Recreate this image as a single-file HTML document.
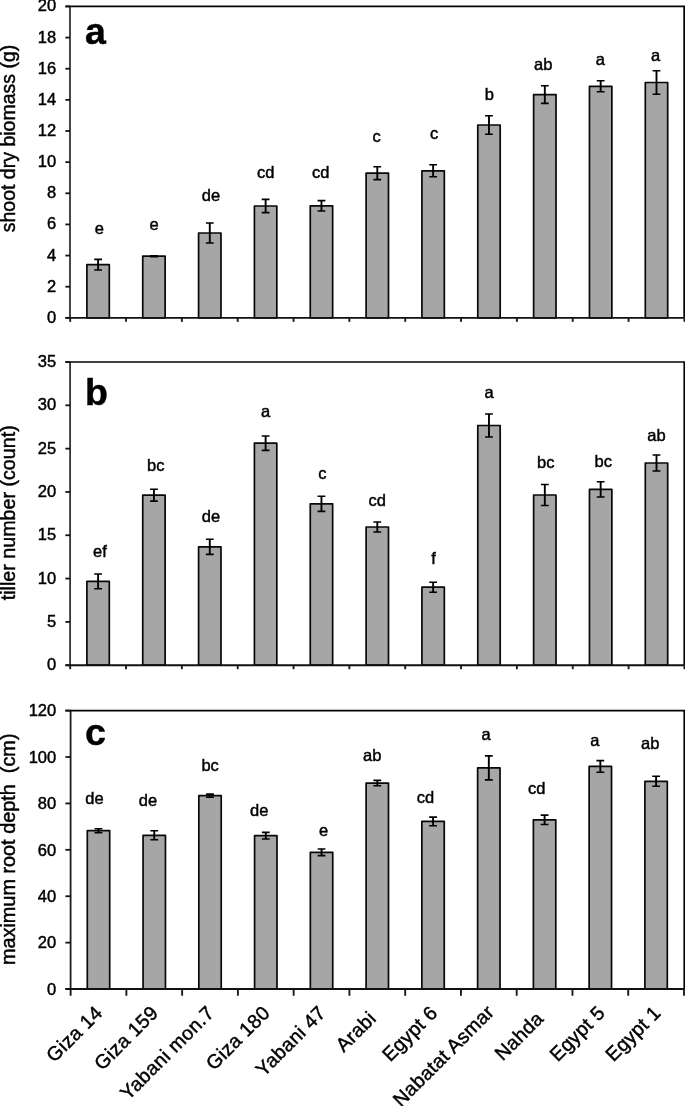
<!DOCTYPE html>
<html><head><meta charset="utf-8"><title>chart</title>
<style>html,body{margin:0;padding:0;background:#fff}svg{display:block}text{font-family:"Liberation Sans",sans-serif;fill:#000;stroke:#000;stroke-width:0.45px}</style></head><body>
<svg width="685" height="1106" viewBox="0 0 685 1106">
<rect width="685" height="1106" fill="#fff"/>
<rect x="86.90" y="264.70" width="22.40" height="53.15" fill="#a6a6a6" stroke="#080808" stroke-width="1.7" stroke-linejoin="round"/>
<path d="M98.10 259.40V270.00" stroke="#000" stroke-width="1.9" fill="none"/>
<path d="M94.20 259.40h7.8M94.20 270.00h7.8" stroke="#000" stroke-width="1.6" fill="none"/>
<rect x="142.74" y="256.20" width="22.40" height="61.65" fill="#a6a6a6" stroke="#080808" stroke-width="1.7" stroke-linejoin="round"/>
<path d="M153.94 255.70V256.70" stroke="#000" stroke-width="1.9" fill="none"/>
<path d="M150.04 255.70h7.8M150.04 256.70h7.8" stroke="#000" stroke-width="1.6" fill="none"/>
<rect x="198.58" y="233.00" width="22.40" height="84.85" fill="#a6a6a6" stroke="#080808" stroke-width="1.7" stroke-linejoin="round"/>
<path d="M209.78 223.00V243.00" stroke="#000" stroke-width="1.9" fill="none"/>
<path d="M205.88 223.00h7.8M205.88 243.00h7.8" stroke="#000" stroke-width="1.6" fill="none"/>
<rect x="254.42" y="206.00" width="22.40" height="111.85" fill="#a6a6a6" stroke="#080808" stroke-width="1.7" stroke-linejoin="round"/>
<path d="M265.62 199.40V212.60" stroke="#000" stroke-width="1.9" fill="none"/>
<path d="M261.72 199.40h7.8M261.72 212.60h7.8" stroke="#000" stroke-width="1.6" fill="none"/>
<rect x="310.26" y="205.80" width="22.40" height="112.05" fill="#a6a6a6" stroke="#080808" stroke-width="1.7" stroke-linejoin="round"/>
<path d="M321.46 200.60V211.00" stroke="#000" stroke-width="1.9" fill="none"/>
<path d="M317.56 200.60h7.8M317.56 211.00h7.8" stroke="#000" stroke-width="1.6" fill="none"/>
<rect x="366.10" y="173.20" width="22.40" height="144.65" fill="#a6a6a6" stroke="#080808" stroke-width="1.7" stroke-linejoin="round"/>
<path d="M377.30 166.80V179.60" stroke="#000" stroke-width="1.9" fill="none"/>
<path d="M373.40 166.80h7.8M373.40 179.60h7.8" stroke="#000" stroke-width="1.6" fill="none"/>
<rect x="421.94" y="170.80" width="22.40" height="147.05" fill="#a6a6a6" stroke="#080808" stroke-width="1.7" stroke-linejoin="round"/>
<path d="M433.14 164.80V176.80" stroke="#000" stroke-width="1.9" fill="none"/>
<path d="M429.24 164.80h7.8M429.24 176.80h7.8" stroke="#000" stroke-width="1.6" fill="none"/>
<rect x="477.78" y="125.00" width="22.40" height="192.85" fill="#a6a6a6" stroke="#080808" stroke-width="1.7" stroke-linejoin="round"/>
<path d="M488.98 115.70V134.30" stroke="#000" stroke-width="1.9" fill="none"/>
<path d="M485.08 115.70h7.8M485.08 134.30h7.8" stroke="#000" stroke-width="1.6" fill="none"/>
<rect x="533.62" y="94.60" width="22.40" height="223.25" fill="#a6a6a6" stroke="#080808" stroke-width="1.7" stroke-linejoin="round"/>
<path d="M544.82 85.80V103.40" stroke="#000" stroke-width="1.9" fill="none"/>
<path d="M540.92 85.80h7.8M540.92 103.40h7.8" stroke="#000" stroke-width="1.6" fill="none"/>
<rect x="589.46" y="86.30" width="22.40" height="231.55" fill="#a6a6a6" stroke="#080808" stroke-width="1.7" stroke-linejoin="round"/>
<path d="M600.66 80.80V91.80" stroke="#000" stroke-width="1.9" fill="none"/>
<path d="M596.76 80.80h7.8M596.76 91.80h7.8" stroke="#000" stroke-width="1.6" fill="none"/>
<rect x="645.30" y="82.50" width="22.40" height="235.35" fill="#a6a6a6" stroke="#080808" stroke-width="1.7" stroke-linejoin="round"/>
<path d="M656.50 70.70V94.30" stroke="#000" stroke-width="1.9" fill="none"/>
<path d="M652.60 70.70h7.8M652.60 94.30h7.8" stroke="#000" stroke-width="1.6" fill="none"/>
<path d="M70.0 317.85V6.45" stroke="#333" stroke-width="1.8" fill="none"/>
<path d="M65.4 6.45H684.2V317.85" stroke="#050505" stroke-width="1.8" fill="none"/>
<path d="M65.4 317.85H684.2" stroke="#111" stroke-width="1.9" fill="none"/>
<path d="M65.4 317.85H70.0" stroke="#111" stroke-width="1.8"/>
<text x="56.2" y="322.85" font-size="16.5" text-anchor="end">0</text>
<path d="M65.4 286.71H70.0" stroke="#111" stroke-width="1.8"/>
<text x="56.2" y="291.71" font-size="16.5" text-anchor="end">2</text>
<path d="M65.4 255.57H70.0" stroke="#111" stroke-width="1.8"/>
<text x="56.2" y="260.57" font-size="16.5" text-anchor="end">4</text>
<path d="M65.4 224.43H70.0" stroke="#111" stroke-width="1.8"/>
<text x="56.2" y="229.43" font-size="16.5" text-anchor="end">6</text>
<path d="M65.4 193.29H70.0" stroke="#111" stroke-width="1.8"/>
<text x="56.2" y="198.29" font-size="16.5" text-anchor="end">8</text>
<path d="M65.4 162.15H70.0" stroke="#111" stroke-width="1.8"/>
<text x="56.2" y="167.15" font-size="16.5" text-anchor="end">10</text>
<path d="M65.4 131.01H70.0" stroke="#111" stroke-width="1.8"/>
<text x="56.2" y="136.01" font-size="16.5" text-anchor="end">12</text>
<path d="M65.4 99.87H70.0" stroke="#111" stroke-width="1.8"/>
<text x="56.2" y="104.87" font-size="16.5" text-anchor="end">14</text>
<path d="M65.4 68.73H70.0" stroke="#111" stroke-width="1.8"/>
<text x="56.2" y="73.73" font-size="16.5" text-anchor="end">16</text>
<path d="M65.4 37.59H70.0" stroke="#111" stroke-width="1.8"/>
<text x="56.2" y="42.59" font-size="16.5" text-anchor="end">18</text>
<path d="M65.4 6.45H70.0" stroke="#111" stroke-width="1.8"/>
<text x="56.2" y="11.45" font-size="16.5" text-anchor="end">20</text>
<path d="M70.18 317.85v4" stroke="#1a1a1a" stroke-width="1.9"/>
<path d="M126.02 317.85v4" stroke="#1a1a1a" stroke-width="1.9"/>
<path d="M181.86 317.85v4" stroke="#1a1a1a" stroke-width="1.9"/>
<path d="M237.70 317.85v4" stroke="#1a1a1a" stroke-width="1.9"/>
<path d="M293.54 317.85v4" stroke="#1a1a1a" stroke-width="1.9"/>
<path d="M349.38 317.85v4" stroke="#1a1a1a" stroke-width="1.9"/>
<path d="M405.22 317.85v4" stroke="#1a1a1a" stroke-width="1.9"/>
<path d="M461.06 317.85v4" stroke="#1a1a1a" stroke-width="1.9"/>
<path d="M516.90 317.85v4" stroke="#1a1a1a" stroke-width="1.9"/>
<path d="M572.74 317.85v4" stroke="#1a1a1a" stroke-width="1.9"/>
<path d="M628.58 317.85v4" stroke="#1a1a1a" stroke-width="1.9"/>
<path d="M684.42 317.85v4" stroke="#1a1a1a" stroke-width="1.9"/>
<text transform="translate(14.9 138.5) rotate(-90)" font-size="19.5" text-anchor="middle">shoot dry biomass (g)</text>
<text x="84.9" y="43.8" font-size="37.5" font-weight="bold" stroke-width="0.1">a</text>
<text x="99.3" y="234.2" font-size="16.5" text-anchor="middle">e</text>
<text x="154.0" y="229.8" font-size="16.5" text-anchor="middle">e</text>
<text x="211.0" y="201.0" font-size="16.5" text-anchor="middle">de</text>
<text x="265.8" y="177.8" font-size="16.5" text-anchor="middle">cd</text>
<text x="320.8" y="178.4" font-size="16.5" text-anchor="middle">cd</text>
<text x="376.6" y="141.8" font-size="16.5" text-anchor="middle">c</text>
<text x="434.0" y="139.0" font-size="16.5" text-anchor="middle">c</text>
<text x="489.4" y="100.0" font-size="16.5" text-anchor="middle">b</text>
<text x="543.2" y="69.7" font-size="16.5" text-anchor="middle">ab</text>
<text x="600.4" y="65.1" font-size="16.5" text-anchor="middle">a</text>
<text x="655.6" y="61.3" font-size="16.5" text-anchor="middle">a</text>
<rect x="86.90" y="581.40" width="22.40" height="83.80" fill="#a6a6a6" stroke="#080808" stroke-width="1.7" stroke-linejoin="round"/>
<path d="M98.10 574.00V588.80" stroke="#000" stroke-width="1.9" fill="none"/>
<path d="M94.20 574.00h7.8M94.20 588.80h7.8" stroke="#000" stroke-width="1.6" fill="none"/>
<rect x="142.74" y="495.20" width="22.40" height="170.00" fill="#a6a6a6" stroke="#080808" stroke-width="1.7" stroke-linejoin="round"/>
<path d="M153.94 489.30V501.10" stroke="#000" stroke-width="1.9" fill="none"/>
<path d="M150.04 489.30h7.8M150.04 501.10h7.8" stroke="#000" stroke-width="1.6" fill="none"/>
<rect x="198.58" y="546.80" width="22.40" height="118.40" fill="#a6a6a6" stroke="#080808" stroke-width="1.7" stroke-linejoin="round"/>
<path d="M209.78 539.20V554.40" stroke="#000" stroke-width="1.9" fill="none"/>
<path d="M205.88 539.20h7.8M205.88 554.40h7.8" stroke="#000" stroke-width="1.6" fill="none"/>
<rect x="254.42" y="443.20" width="22.40" height="222.00" fill="#a6a6a6" stroke="#080808" stroke-width="1.7" stroke-linejoin="round"/>
<path d="M265.62 436.00V450.40" stroke="#000" stroke-width="1.9" fill="none"/>
<path d="M261.72 436.00h7.8M261.72 450.40h7.8" stroke="#000" stroke-width="1.6" fill="none"/>
<rect x="310.26" y="503.80" width="22.40" height="161.40" fill="#a6a6a6" stroke="#080808" stroke-width="1.7" stroke-linejoin="round"/>
<path d="M321.46 496.20V511.40" stroke="#000" stroke-width="1.9" fill="none"/>
<path d="M317.56 496.20h7.8M317.56 511.40h7.8" stroke="#000" stroke-width="1.6" fill="none"/>
<rect x="366.10" y="527.00" width="22.40" height="138.20" fill="#a6a6a6" stroke="#080808" stroke-width="1.7" stroke-linejoin="round"/>
<path d="M377.30 522.00V532.00" stroke="#000" stroke-width="1.9" fill="none"/>
<path d="M373.40 522.00h7.8M373.40 532.00h7.8" stroke="#000" stroke-width="1.6" fill="none"/>
<rect x="421.94" y="587.20" width="22.40" height="78.00" fill="#a6a6a6" stroke="#080808" stroke-width="1.7" stroke-linejoin="round"/>
<path d="M433.14 582.20V592.20" stroke="#000" stroke-width="1.9" fill="none"/>
<path d="M429.24 582.20h7.8M429.24 592.20h7.8" stroke="#000" stroke-width="1.6" fill="none"/>
<rect x="477.78" y="425.50" width="22.40" height="239.70" fill="#a6a6a6" stroke="#080808" stroke-width="1.7" stroke-linejoin="round"/>
<path d="M488.98 414.00V437.00" stroke="#000" stroke-width="1.9" fill="none"/>
<path d="M485.08 414.00h7.8M485.08 437.00h7.8" stroke="#000" stroke-width="1.6" fill="none"/>
<rect x="533.62" y="495.00" width="22.40" height="170.20" fill="#a6a6a6" stroke="#080808" stroke-width="1.7" stroke-linejoin="round"/>
<path d="M544.82 484.50V505.50" stroke="#000" stroke-width="1.9" fill="none"/>
<path d="M540.92 484.50h7.8M540.92 505.50h7.8" stroke="#000" stroke-width="1.6" fill="none"/>
<rect x="589.46" y="489.40" width="22.40" height="175.80" fill="#a6a6a6" stroke="#080808" stroke-width="1.7" stroke-linejoin="round"/>
<path d="M600.66 481.80V497.00" stroke="#000" stroke-width="1.9" fill="none"/>
<path d="M596.76 481.80h7.8M596.76 497.00h7.8" stroke="#000" stroke-width="1.6" fill="none"/>
<rect x="645.30" y="463.00" width="22.40" height="202.20" fill="#a6a6a6" stroke="#080808" stroke-width="1.7" stroke-linejoin="round"/>
<path d="M656.50 455.00V471.00" stroke="#000" stroke-width="1.9" fill="none"/>
<path d="M652.60 455.00h7.8M652.60 471.00h7.8" stroke="#000" stroke-width="1.6" fill="none"/>
<path d="M70.1 665.2V362.0" stroke="#333" stroke-width="1.8" fill="none"/>
<path d="M65.4 362.0H684.2V665.2" stroke="#050505" stroke-width="1.6" fill="none"/>
<path d="M65.4 665.2H684.2" stroke="#111" stroke-width="1.9" fill="none"/>
<path d="M65.4 665.20H70.1" stroke="#111" stroke-width="1.8"/>
<text x="56.2" y="670.35" font-size="16.5" text-anchor="end">0</text>
<path d="M65.4 621.89H70.1" stroke="#111" stroke-width="1.8"/>
<text x="56.2" y="627.04" font-size="16.5" text-anchor="end">5</text>
<path d="M65.4 578.57H70.1" stroke="#111" stroke-width="1.8"/>
<text x="56.2" y="583.72" font-size="16.5" text-anchor="end">10</text>
<path d="M65.4 535.26H70.1" stroke="#111" stroke-width="1.8"/>
<text x="56.2" y="540.41" font-size="16.5" text-anchor="end">15</text>
<path d="M65.4 491.94H70.1" stroke="#111" stroke-width="1.8"/>
<text x="56.2" y="497.09" font-size="16.5" text-anchor="end">20</text>
<path d="M65.4 448.63H70.1" stroke="#111" stroke-width="1.8"/>
<text x="56.2" y="453.78" font-size="16.5" text-anchor="end">25</text>
<path d="M65.4 405.31H70.1" stroke="#111" stroke-width="1.8"/>
<text x="56.2" y="410.46" font-size="16.5" text-anchor="end">30</text>
<path d="M65.4 362.00H70.1" stroke="#111" stroke-width="1.8"/>
<text x="56.2" y="367.15" font-size="16.5" text-anchor="end">35</text>
<path d="M70.18 665.2v4" stroke="#1a1a1a" stroke-width="1.9"/>
<path d="M126.02 665.2v4" stroke="#1a1a1a" stroke-width="1.9"/>
<path d="M181.86 665.2v4" stroke="#1a1a1a" stroke-width="1.9"/>
<path d="M237.70 665.2v4" stroke="#1a1a1a" stroke-width="1.9"/>
<path d="M293.54 665.2v4" stroke="#1a1a1a" stroke-width="1.9"/>
<path d="M349.38 665.2v4" stroke="#1a1a1a" stroke-width="1.9"/>
<path d="M405.22 665.2v4" stroke="#1a1a1a" stroke-width="1.9"/>
<path d="M461.06 665.2v4" stroke="#1a1a1a" stroke-width="1.9"/>
<path d="M516.90 665.2v4" stroke="#1a1a1a" stroke-width="1.9"/>
<path d="M572.74 665.2v4" stroke="#1a1a1a" stroke-width="1.9"/>
<path d="M628.58 665.2v4" stroke="#1a1a1a" stroke-width="1.9"/>
<path d="M684.42 665.2v4" stroke="#1a1a1a" stroke-width="1.9"/>
<text transform="translate(14.9 512.8) rotate(-90)" font-size="19.7" text-anchor="middle">tiller number (count)</text>
<text x="84.9" y="405.3" font-size="37.5" font-weight="bold" stroke-width="0.1">b</text>
<text x="100.0" y="557.4" font-size="16.5" text-anchor="middle">ef</text>
<text x="155.8" y="471.0" font-size="16.5" text-anchor="middle">bc</text>
<text x="211.0" y="521.8" font-size="16.5" text-anchor="middle">de</text>
<text x="265.6" y="416.6" font-size="16.5" text-anchor="middle">a</text>
<text x="322.4" y="479.4" font-size="16.5" text-anchor="middle">c</text>
<text x="377.3" y="506.4" font-size="16.5" text-anchor="middle">cd</text>
<text x="433.5" y="564.0" font-size="16.5" text-anchor="middle">f</text>
<text x="489.1" y="398.3" font-size="16.5" text-anchor="middle">a</text>
<text x="545.8" y="467.8" font-size="16.5" text-anchor="middle">bc</text>
<text x="603.2" y="466.9" font-size="16.5" text-anchor="middle">bc</text>
<text x="656.5" y="440.5" font-size="16.5" text-anchor="middle">ab</text>
<rect x="87.30" y="830.70" width="22.40" height="158.35" fill="#a6a6a6" stroke="#080808" stroke-width="1.7" stroke-linejoin="round"/>
<path d="M98.50 828.70V832.70" stroke="#000" stroke-width="1.9" fill="none"/>
<path d="M94.60 828.70h7.8M94.60 832.70h7.8" stroke="#000" stroke-width="1.6" fill="none"/>
<rect x="143.06" y="835.30" width="22.40" height="153.75" fill="#a6a6a6" stroke="#080808" stroke-width="1.7" stroke-linejoin="round"/>
<path d="M154.26 830.80V839.80" stroke="#000" stroke-width="1.9" fill="none"/>
<path d="M150.36 830.80h7.8M150.36 839.80h7.8" stroke="#000" stroke-width="1.6" fill="none"/>
<rect x="198.82" y="795.70" width="22.40" height="193.35" fill="#a6a6a6" stroke="#080808" stroke-width="1.7" stroke-linejoin="round"/>
<path d="M210.02 794.10V797.30" stroke="#000" stroke-width="1.9" fill="none"/>
<path d="M206.12 794.10h7.8M206.12 797.30h7.8" stroke="#000" stroke-width="1.6" fill="none"/>
<rect x="254.58" y="835.70" width="22.40" height="153.35" fill="#a6a6a6" stroke="#080808" stroke-width="1.7" stroke-linejoin="round"/>
<path d="M265.78 832.40V839.00" stroke="#000" stroke-width="1.9" fill="none"/>
<path d="M261.88 832.40h7.8M261.88 839.00h7.8" stroke="#000" stroke-width="1.6" fill="none"/>
<rect x="310.34" y="852.30" width="22.40" height="136.75" fill="#a6a6a6" stroke="#080808" stroke-width="1.7" stroke-linejoin="round"/>
<path d="M321.54 849.00V855.60" stroke="#000" stroke-width="1.9" fill="none"/>
<path d="M317.64 849.00h7.8M317.64 855.60h7.8" stroke="#000" stroke-width="1.6" fill="none"/>
<rect x="366.10" y="783.10" width="22.40" height="205.95" fill="#a6a6a6" stroke="#080808" stroke-width="1.7" stroke-linejoin="round"/>
<path d="M377.30 780.40V785.80" stroke="#000" stroke-width="1.9" fill="none"/>
<path d="M373.40 780.40h7.8M373.40 785.80h7.8" stroke="#000" stroke-width="1.6" fill="none"/>
<rect x="421.86" y="821.40" width="22.40" height="167.65" fill="#a6a6a6" stroke="#080808" stroke-width="1.7" stroke-linejoin="round"/>
<path d="M433.06 817.10V825.70" stroke="#000" stroke-width="1.9" fill="none"/>
<path d="M429.16 817.10h7.8M429.16 825.70h7.8" stroke="#000" stroke-width="1.6" fill="none"/>
<rect x="477.62" y="767.90" width="22.40" height="221.15" fill="#a6a6a6" stroke="#080808" stroke-width="1.7" stroke-linejoin="round"/>
<path d="M488.82 755.90V779.90" stroke="#000" stroke-width="1.9" fill="none"/>
<path d="M484.92 755.90h7.8M484.92 779.90h7.8" stroke="#000" stroke-width="1.6" fill="none"/>
<rect x="533.38" y="819.80" width="22.40" height="169.25" fill="#a6a6a6" stroke="#080808" stroke-width="1.7" stroke-linejoin="round"/>
<path d="M544.58 815.10V824.50" stroke="#000" stroke-width="1.9" fill="none"/>
<path d="M540.68 815.10h7.8M540.68 824.50h7.8" stroke="#000" stroke-width="1.6" fill="none"/>
<rect x="589.14" y="766.40" width="22.40" height="222.65" fill="#a6a6a6" stroke="#080808" stroke-width="1.7" stroke-linejoin="round"/>
<path d="M600.34 760.60V772.20" stroke="#000" stroke-width="1.9" fill="none"/>
<path d="M596.44 760.60h7.8M596.44 772.20h7.8" stroke="#000" stroke-width="1.6" fill="none"/>
<rect x="644.90" y="781.30" width="22.40" height="207.75" fill="#a6a6a6" stroke="#080808" stroke-width="1.7" stroke-linejoin="round"/>
<path d="M656.10 776.30V786.30" stroke="#000" stroke-width="1.9" fill="none"/>
<path d="M652.20 776.30h7.8M652.20 786.30h7.8" stroke="#000" stroke-width="1.6" fill="none"/>
<path d="M70.6 989.05V710.6" stroke="#1c1c1c" stroke-width="1.8" fill="none"/>
<path d="M65.4 710.6H684.2V989.05" stroke="#050505" stroke-width="1.6" fill="none"/>
<path d="M65.4 989.05H684.2" stroke="#111" stroke-width="1.9" fill="none"/>
<path d="M65.4 989.05H70.6" stroke="#111" stroke-width="1.8"/>
<text x="56.2" y="994.75" font-size="16.5" text-anchor="end">0</text>
<path d="M65.4 942.64H70.6" stroke="#111" stroke-width="1.8"/>
<text x="56.2" y="948.34" font-size="16.5" text-anchor="end">20</text>
<path d="M65.4 896.23H70.6" stroke="#111" stroke-width="1.8"/>
<text x="56.2" y="901.93" font-size="16.5" text-anchor="end">40</text>
<path d="M65.4 849.83H70.6" stroke="#111" stroke-width="1.8"/>
<text x="56.2" y="855.53" font-size="16.5" text-anchor="end">60</text>
<path d="M65.4 803.42H70.6" stroke="#111" stroke-width="1.8"/>
<text x="56.2" y="809.12" font-size="16.5" text-anchor="end">80</text>
<path d="M65.4 757.01H70.6" stroke="#111" stroke-width="1.8"/>
<text x="56.2" y="762.71" font-size="16.5" text-anchor="end">100</text>
<path d="M65.4 710.60H70.6" stroke="#111" stroke-width="1.8"/>
<text x="56.2" y="716.30" font-size="16.5" text-anchor="end">120</text>
<path d="M70.62 989.05v6.7" stroke="#1a1a1a" stroke-width="1.9"/>
<path d="M126.38 989.05v6.7" stroke="#1a1a1a" stroke-width="1.9"/>
<path d="M182.14 989.05v6.7" stroke="#1a1a1a" stroke-width="1.9"/>
<path d="M237.90 989.05v6.7" stroke="#1a1a1a" stroke-width="1.9"/>
<path d="M293.66 989.05v6.7" stroke="#1a1a1a" stroke-width="1.9"/>
<path d="M349.42 989.05v6.7" stroke="#1a1a1a" stroke-width="1.9"/>
<path d="M405.18 989.05v6.7" stroke="#1a1a1a" stroke-width="1.9"/>
<path d="M460.94 989.05v6.7" stroke="#1a1a1a" stroke-width="1.9"/>
<path d="M516.70 989.05v6.7" stroke="#1a1a1a" stroke-width="1.9"/>
<path d="M572.46 989.05v6.7" stroke="#1a1a1a" stroke-width="1.9"/>
<path d="M628.22 989.05v6.7" stroke="#1a1a1a" stroke-width="1.9"/>
<path d="M683.98 989.05v6.7" stroke="#1a1a1a" stroke-width="1.9"/>
<text transform="translate(14.9 849.3) rotate(-90)" font-size="19.85" text-anchor="middle">maximum root depth&#160;&#160;(cm)</text>
<text x="84.9" y="744.5" font-size="37.5" font-weight="bold" stroke-width="0.1">c</text>
<text x="94.5" y="803.7" font-size="16.5" text-anchor="middle">de</text>
<text x="148.0" y="805.6" font-size="16.5" text-anchor="middle">de</text>
<text x="210.1" y="770.8" font-size="16.5" text-anchor="middle">bc</text>
<text x="259.3" y="816.3" font-size="16.5" text-anchor="middle">de</text>
<text x="323.7" y="835.6" font-size="16.5" text-anchor="middle">e</text>
<text x="372.2" y="760.9" font-size="16.5" text-anchor="middle">ab</text>
<text x="425.4" y="802.5" font-size="16.5" text-anchor="middle">cd</text>
<text x="486.1" y="740.3" font-size="16.5" text-anchor="middle">a</text>
<text x="536.7" y="793.8" font-size="16.5" text-anchor="middle">cd</text>
<text x="594.8" y="745.7" font-size="16.5" text-anchor="middle">a</text>
<text x="650.3" y="748.8" font-size="16.5" text-anchor="middle">ab</text>
<text transform="translate(103.6 1014.1) rotate(-45)" font-size="19.6" letter-spacing="0.3" text-anchor="end">Giza 14</text>
<text transform="translate(159.4 1014.1) rotate(-45)" font-size="19.6" letter-spacing="0.3" text-anchor="end">Giza 159</text>
<text transform="translate(215.3 1014.1) rotate(-45)" font-size="19.6" letter-spacing="0.3" text-anchor="end">Yabani mon.7</text>
<text transform="translate(271.1 1014.1) rotate(-45)" font-size="19.6" letter-spacing="0.3" text-anchor="end">Giza 180</text>
<text transform="translate(327.0 1014.1) rotate(-45)" font-size="19.6" letter-spacing="0.3" text-anchor="end">Yabani 47</text>
<text transform="translate(377.2 1019.7) rotate(-45)" font-size="19.6" letter-spacing="0.3" text-anchor="end">Arabi</text>
<text transform="translate(438.6 1014.1) rotate(-45)" font-size="19.6" letter-spacing="0.3" text-anchor="end">Egypt 6</text>
<text transform="translate(495.3 1013.3) rotate(-45)" font-size="19.6" letter-spacing="0.3" text-anchor="end">Nabatat Asmar</text>
<text transform="translate(544.7 1019.7) rotate(-45)" font-size="19.6" letter-spacing="0.3" text-anchor="end">Nahda</text>
<text transform="translate(606.2 1014.1) rotate(-45)" font-size="19.6" letter-spacing="0.3" text-anchor="end">Egypt 5</text>
<text transform="translate(662.0 1014.1) rotate(-45)" font-size="19.6" letter-spacing="0.3" text-anchor="end">Egypt 1</text>
</svg></body></html>
